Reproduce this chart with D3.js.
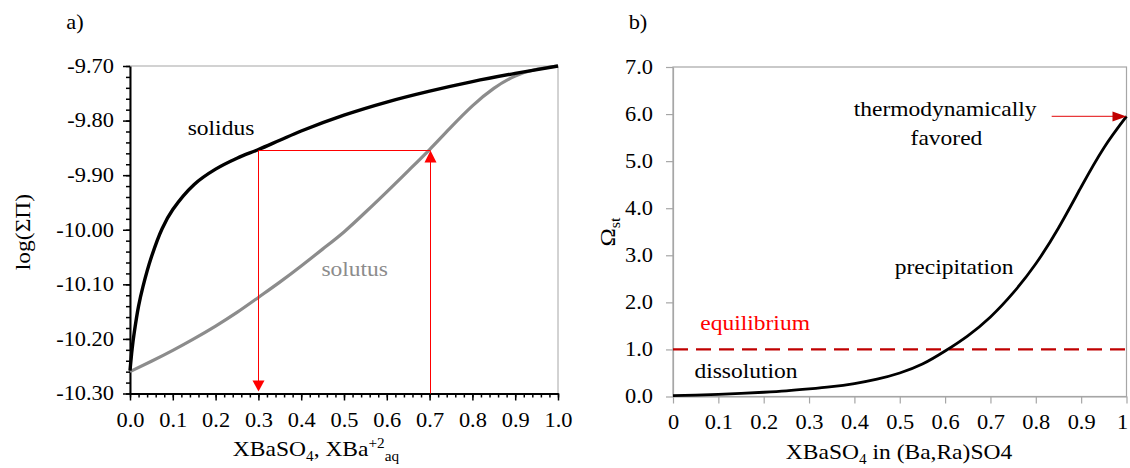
<!DOCTYPE html>
<html>
<head>
<meta charset="utf-8">
<script src="https://cdn.jsdelivr.net/npm/d3@7"></script>
<style>
  html, body { margin: 0; padding: 0; background: #fff; }
  svg { display: block; font-family: "Liberation Serif", "Times New Roman", serif; }
  svg text { font-family: "Liberation Serif", "Times New Roman", serif; }
</style>
</head>
<body>
<svg id="chart" width="1130" height="468"></svg>
<script>
// ---------- DATA ----------
// Panel a) : Lippmann diagram
const solidusX = [0, 0.005, 0.01, 0.02, 0.03, 0.05, 0.075, 0.1, 0.15, 0.2, 0.25, 0.3, 0.35, 0.4, 0.5, 0.6, 0.7, 0.8, 0.9, 1.0];
const solidusY = [-10.258, -10.218, -10.188, -10.140, -10.105, -10.050, -9.998, -9.963, -9.917, -9.889, -9.869, -9.853, -9.836, -9.819, -9.790, -9.766, -9.746, -9.7285, -9.7135, -9.700];
const solutusX = [0, 0.05, 0.1, 0.15, 0.2, 0.25, 0.3, 0.35, 0.4, 0.45, 0.5, 0.55, 0.6, 0.65, 0.7, 0.75, 0.8, 0.85, 0.9, 0.95, 1.0];
const solutusY = [-10.260, -10.241, -10.221, -10.1995, -10.1765, -10.1515, -10.124, -10.096, -10.0665, -10.0355, -10.004, -9.968, -9.9305, -9.892, -9.853, -9.812, -9.773, -9.741, -9.7185, -9.706, -9.700];
const aYTicks = [-10.30, -10.20, -10.10, -10.00, -9.90, -9.80, -9.70];
const aYTickLabels = ["-10.30", "-10.20", "-10.10", "-10.00", "-9.90", "-9.80", "-9.70"];
const aXTicks = [0, 0.1, 0.2, 0.3, 0.4, 0.5, 0.6, 0.7, 0.8, 0.9, 1.0];
const aXTickLabels = ["0.0", "0.1", "0.2", "0.3", "0.4", "0.5", "0.6", "0.7", "0.8", "0.9", "1.0"];
const aGuideX = [0.3, 0.7];        // solid / aqueous compositions joined by the tie line
const aGuideY = -9.853;            // log(ΣΠ) of the tie line

// Panel b) : stoichiometric saturation
const omegaX = [0, 0.05, 0.1, 0.15, 0.2, 0.25, 0.3, 0.35, 0.4, 0.45, 0.5, 0.55, 0.6, 0.65, 0.7, 0.75, 0.8, 0.85, 0.9, 0.95, 1.0];
const omegaY = [0.02, 0.03, 0.045, 0.065, 0.09, 0.12, 0.16, 0.208, 0.275, 0.368, 0.50, 0.69, 0.967, 1.29, 1.69, 2.20, 2.82, 3.58, 4.45, 5.28, 5.95];
const bYTicks = [0, 1, 2, 3, 4, 5, 6, 7];
const bYTickLabels = ["0.0", "1.0", "2.0", "3.0", "4.0", "5.0", "6.0", "7.0"];
const bXTicks = [0, 0.1, 0.2, 0.3, 0.4, 0.5, 0.6, 0.7, 0.8, 0.9, 1.0];
const bXTickLabels = ["0", "0.1", "0.2", "0.3", "0.4", "0.5", "0.6", "0.7", "0.8", "0.9", "1"];
const equilibriumLevel = 1.0;
const favoredArrow = { x0: 0.835, x1: 1.0, y: 5.95 };

// ---------- HELPERS ----------
const SX = 1.12;
const FONT = "Liberation Serif, Times New Roman, serif";
const svg = d3.select("#chart");

function label(parent, x, y, parts, opt) {
  opt = opt || {};
  const g = parent.append("g")
    .attr("transform", `translate(${x},${y})` + (opt.rotate ? ` rotate(${opt.rotate})` : "") + ` scale(${SX},1)`);
  const fs = opt.size || 21;
  const t = g.append("text")
    .attr("font-family", FONT)
    .attr("font-size", fs)
    .attr("fill", opt.fill || "#000")
    .attr("text-anchor", opt.anchor || "middle");
  let shift = 0;
  parts.forEach(p => {
    if (typeof p === "string") p = { t: p };
    let target = 0;
    if (p.sub) target = fs * 0.24;
    if (p.sup) target = -fs * 0.38;
    const ts = t.append("tspan").text(p.t).attr("dy", target - shift);
    if (p.sub || p.sup) ts.attr("font-size", fs * 0.65);
    shift = target;
  });
  return g;
}

function styleAxis(sel, color, domainWidth, tickWidth) {
  sel.attr("font-family", FONT).attr("font-size", 20);
  sel.select(".domain").attr("stroke", color).attr("stroke-width", domainWidth);
  sel.selectAll(".tick line").attr("stroke", color).attr("stroke-width", tickWidth);
  sel.selectAll("text").each(function () {
    const el = d3.select(this);
    const x = +el.attr("x") || 0;
    const y = +el.attr("y") || 0;
    el.attr("x", 0).attr("y", 0).attr("transform", `translate(${x},${y}) scale(${SX},1)`);
  }).attr("font-family", FONT).attr("font-size", 20).attr("fill", "#000");
}

// ---------- PANEL A ----------
const xA = d3.scaleLinear().domain([0, 1]).range([130, 558]);
const yA = d3.scaleLinear().domain([-10.30, -9.70]).range([393.5, 66]);
const gA = svg.append("g");

// frame (top/right grey)
gA.append("rect")
  .attr("x", xA(0)).attr("y", yA(-9.70))
  .attr("width", xA(1) - xA(0)).attr("height", yA(-10.30) - yA(-9.70))
  .attr("fill", "none").attr("stroke", "#a6a6a6").attr("stroke-width", 1);

// minor ticks
const minorA_Y = d3.range(0, 31).map(i => -10.30 + i * 0.02);
const minorA_X = d3.range(0, 51).map(i => i * 0.02);
gA.append("g").attr("transform", `translate(${xA(0)},0)`)
  .call(d3.axisLeft(yA).tickValues(minorA_Y).tickSize(4).tickFormat(""))
  .call(g => g.select(".domain").remove())
  .call(g => g.selectAll("line").attr("stroke", "#000").attr("stroke-width", 1.5));
gA.append("g").attr("transform", `translate(0,${yA(-10.30)})`)
  .call(d3.axisBottom(xA).tickValues(minorA_X).tickSize(4).tickFormat(""))
  .call(g => g.select(".domain").remove())
  .call(g => g.selectAll("line").attr("stroke", "#000").attr("stroke-width", 1.5));

// major axes
const axAY = gA.append("g").attr("transform", `translate(${xA(0)},0)`)
  .call(d3.axisLeft(yA).tickValues(aYTicks).tickSize(7).tickPadding(9)
    .tickFormat((d, i) => aYTickLabels[i]).tickSizeOuter(0));
styleAxis(axAY, "#000", 2, 1.5);

const axAX = gA.append("g").attr("transform", `translate(0,${yA(-10.30)})`)
  .call(d3.axisBottom(xA).tickValues(aXTicks).tickSize(7).tickPadding(12)
    .tickFormat((d, i) => aXTickLabels[i]).tickSizeOuter(0));
styleAxis(axAX, "#000", 2, 1.5);

// curves
const lineSolidus = d3.line().x(d => xA(d[0])).y(d => yA(d[1])).curve(d3.curveCatmullRom.alpha(0.5));
const lineSolutus = d3.line().x(d => xA(d[0])).y(d => yA(d[1])).curve(d3.curveNatural);
gA.append("path").datum(solutusX.map((x, i) => [x, solutusY[i]]))
  .attr("d", lineSolutus).attr("fill", "none").attr("stroke", "#8c8c8c").attr("stroke-width", 3.2);
gA.append("path").datum(solidusX.map((x, i) => [x, solidusY[i]]))
  .attr("d", lineSolidus).attr("fill", "none").attr("stroke", "#000").attr("stroke-width", 3.4);

// red tie-line and arrows
const red = "#ff0000";
const yTie = Math.round(yA(aGuideY)) + 0.5;
const xd = Math.round(xA(aGuideX[0])) + 0.5, xu = Math.round(xA(aGuideX[1])) + 0.5, yb = yA(-10.30);
gA.append("line")
  .attr("x1", xd).attr("x2", xu).attr("y1", yTie).attr("y2", yTie)
  .attr("stroke", red).attr("stroke-width", 1);
// down arrow at solid composition
gA.append("line").attr("x1", xd).attr("x2", xd).attr("y1", yTie).attr("y2", yb - 12)
  .attr("stroke", red).attr("stroke-width", 1);
gA.append("path").attr("d", `M${xd - 6},${yb - 13} L${xd + 6},${yb - 13} L${xd},${yb - 2} Z`).attr("fill", red);
// up arrow at aqueous composition
gA.append("line").attr("x1", xu).attr("x2", xu).attr("y1", yb).attr("y2", yTie + 11)
  .attr("stroke", red).attr("stroke-width", 1);
gA.append("path").attr("d", `M${xu - 6},${yTie + 12} L${xu + 6},${yTie + 12} L${xu},${yTie} Z`).attr("fill", red);

// labels
label(gA, xA(0.2126), yA(-9.8264), ["solidus"]);
label(gA, xA(0.525), yA(-10.085), ["solutus"], { fill: "#8c8c8c" });
label(svg, 75, 29, ["a)"], { size: 20 });
label(svg, 30, 232, ["log(ΣΠ)"], { rotate: -90, size: 21 });
label(svg, 316, 456, ["XBaSO", { t: "4", sub: true }, ", XBa", { t: "+2", sup: true }, { t: "aq", sub: true }], { size: 21 });

// ---------- PANEL B ----------
const xB = d3.scaleLinear().domain([0, 1]).range([673, 1126.5]);
const yB = d3.scaleLinear().domain([0, 7]).range([396.5, 67]);
const gB = svg.append("g");
const grey = "#a6a6a6";

gB.append("rect")
  .attr("x", xB(0)).attr("y", yB(7))
  .attr("width", xB(1) - xB(0)).attr("height", yB(0) - yB(7))
  .attr("fill", "none").attr("stroke", grey).attr("stroke-width", 1.2);

const axBY = gB.append("g").attr("transform", `translate(${xB(0)},0)`)
  .call(d3.axisLeft(yB).tickValues(bYTicks).tickSize(7).tickPadding(13)
    .tickFormat((d, i) => bYTickLabels[i]).tickSizeOuter(0));
styleAxis(axBY, grey, 1.2, 1.2);

const axBX = gB.append("g").attr("transform", `translate(0,${yB(0)})`)
  .call(d3.axisBottom(xB).tickValues(bXTicks).tickSize(7).tickPadding(11)
    .tickFormat((d, i) => bXTickLabels[i]).tickSizeOuter(0));
styleAxis(axBX, grey, 1.2, 1.2);
// keep the last label ("1") inside the canvas
axBX.selectAll(".tick").filter(d => d === 1).select("text").attr("text-anchor", "end").attr("dx", 1);

// equilibrium dashed line
gB.append("line")
  .attr("x1", xB(0)).attr("x2", xB(1))
  .attr("y1", yB(equilibriumLevel)).attr("y2", yB(equilibriumLevel))
  .attr("stroke", "#c00000").attr("stroke-width", 2.2).attr("stroke-dasharray", "15,8");

// omega curve
const lineB = d3.line().x(d => xB(d[0])).y(d => yB(d[1])).curve(d3.curveNatural);
gB.append("path").datum(omegaX.map((x, i) => [x, omegaY[i]]))
  .attr("d", lineB).attr("fill", "none").attr("stroke", "#000").attr("stroke-width", 2.8);

// arrow to thermodynamically favored end-member
const ax0 = xB(favoredArrow.x0), ax1 = xB(favoredArrow.x1), ay = yB(favoredArrow.y);
gB.append("line").attr("x1", ax0).attr("x2", ax1 - 12).attr("y1", ay).attr("y2", ay)
  .attr("stroke", "#e8393b").attr("stroke-width", 1.3);
gB.append("path").attr("d", `M${ax1 - 14},${ay - 5} L${ax1},${ay} L${ax1 - 14},${ay + 5} Z`).attr("fill", "#c00000");

// labels
label(gB, xB(0.600), yB(5.95), ["thermodynamically"]);
label(gB, xB(0.603), yB(5.334), ["favored"]);
label(gB, xB(0.620), yB(2.60), ["precipitation"]);
label(gB, xB(0.181), yB(1.41), ["equilibrium"], { fill: "#ff0000" });
label(gB, xB(0.161), yB(0.39), ["dissolution"]);
label(svg, 638, 29, ["b)"], { size: 20 });
label(svg, 615, 232, ["Ω", { t: "st", sub: true }], { rotate: -90, size: 22 });
label(svg, 899, 459, ["XBaSO", { t: "4", sub: true }, " in (Ba,Ra)SO4"], { size: 21 });
</script>
</body>
</html>
